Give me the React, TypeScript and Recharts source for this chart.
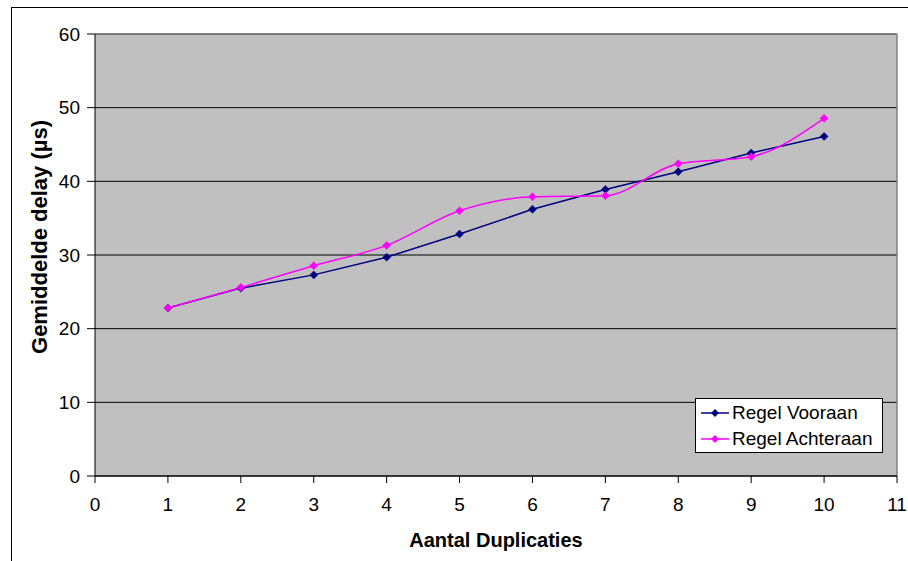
import React from "react";
import { LineChart, Line, XAxis, YAxis, CartesianGrid, ReferenceLine } from "recharts";

const duplicaties = [1, 2, 3, 4, 5, 6, 7, 8, 9, 10];
const regelVooraan = [22.8, 25.5, 27.3, 29.7, 32.85, 36.2, 38.9, 41.3, 43.85, 46.1];
const regelAchteraan = [22.8, 25.6, 28.55, 31.3, 36.0, 37.9, 38.05, 42.4, 43.35, 48.55];
const xTicks = [0, 1, 2, 3, 4, 5, 6, 7, 8, 9, 10, 11];
const yTicks = [0, 10, 20, 30, 40, 50, 60];

const seriesNames = ["Regel Vooraan", "Regel Achteraan"];
const seriesColors = ["#000080", "#FF00FF"];

const data = duplicaties.map((d, i) => ({
  x: d,
  vooraan: regelVooraan[i],
  achteraan: regelAchteraan[i],
}));

const FONT = "'Liberation Sans', Arial, sans-serif";

const makeDot = (color: string) => (props: any) => {
  const { cx, cy, index } = props;
  if (cx == null || cy == null) return <g key={index} />;
  const s = 4;
  return (
    <polygon
      key={index}
      points={`${cx},${cy - s} ${cx + s},${cy} ${cx},${cy + s} ${cx - s},${cy}`}
      fill={color}
      stroke={color}
      strokeWidth={0.5}
    />
  );
};

const LegendBox = () => (
  <div
    style={{
      position: "absolute",
      left: 695,
      top: 398,
      border: "1px solid #000",
      background: "#fff",
      width: 186,
      height: 52,
      boxSizing: "content-box",
      fontFamily: FONT,
      fontSize: 19,
      color: "#000",
      paddingTop: 1,
    }}
  >
    {seriesNames.map((name, i) => (
      <div key={name} style={{ display: "flex", alignItems: "center", height: 26 }}>
        <svg width={36} height={12} style={{ flex: "none" }}>
          <line x1={5} y1={6} x2={33} y2={6} stroke={seriesColors[i]} strokeWidth={1.5} />
          <polygon points="19,2 23,6 19,10 15,6" fill={seriesColors[i]} />
        </svg>
        <span style={{ lineHeight: "26px", whiteSpace: "nowrap" }}>{name}</span>
      </div>
    ))}
  </div>
);

export default function App() {
  return (
    <div style={{ position: "fixed", left: 0, top: 0, width: 908, height: 561, overflow: "hidden", background: "#fff" }}>
      <LineChart
        width={908}
        height={561}
        data={data}
        margin={{ top: 34, right: 11, left: 0, bottom: 0 }}
      >
        <CartesianGrid
          vertical={false}
          horizontal={true}
          stroke="#000"
          fill="#C0C0C0"
          fillOpacity={1}
        />
        <XAxis
          dataKey="x"
          type="number"
          domain={[0, 11]}
          ticks={xTicks}
          interval={0}
          height={85}
          axisLine={{ stroke: "#000" }}
          tickLine={{ stroke: "#000" }}
          tickSize={7}
          tickMargin={15}
          tick={{ fill: "#000", fontSize: 19, fontFamily: FONT }}
          label={{
            content: () => (
              <text x={496} y={547} textAnchor="middle" fontFamily={FONT} fontSize={20} fontWeight="bold" fill="#000">
                Aantal Duplicaties
              </text>
            ),
          }}
        />
        <YAxis
          type="number"
          domain={[0, 60]}
          ticks={yTicks}
          interval={0}
          width={95}
          axisLine={{ stroke: "#000" }}
          tickLine={{ stroke: "#000" }}
          tickSize={8}
          tickMargin={7}
          tick={{ fill: "#000", fontSize: 19, fontFamily: FONT }}
          label={{
            content: () => (
              <text
                x={47}
                y={237}
                transform="rotate(-90 47 237)"
                textAnchor="middle"
                fontFamily={FONT}
                fontSize={22}
                fontWeight="bold"
                fill="#000"
              >
                Gemiddelde delay (µs)
              </text>
            ),
          }}
        />
        <ReferenceLine y={60} stroke="#808080" strokeWidth={1.5} />
        <ReferenceLine x={11} stroke="#808080" strokeWidth={1.5} />
        <Line
          type="linear"
          dataKey="vooraan"
          name={seriesNames[0]}
          stroke={seriesColors[0]}
          strokeWidth={1.5}
          dot={makeDot(seriesColors[0])}
          activeDot={false}
          isAnimationActive={false}
        />
        <Line
          type="monotone"
          dataKey="achteraan"
          name={seriesNames[1]}
          stroke={seriesColors[1]}
          strokeWidth={1.5}
          dot={makeDot(seriesColors[1])}
          activeDot={false}
          isAnimationActive={false}
        />
      </LineChart>
      <LegendBox />
      <div
        style={{
          position: "absolute",
          left: 11,
          top: 7,
          width: 2000,
          height: 2000,
          borderLeft: "1px solid #000",
          borderTop: "1px solid #000",
          pointerEvents: "none",
        }}
      />
    </div>
  );
}
